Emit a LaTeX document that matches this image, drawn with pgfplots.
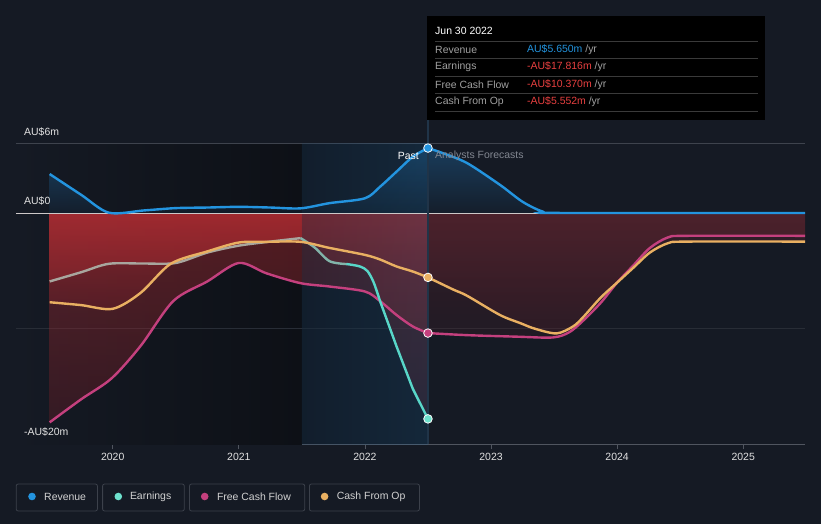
\documentclass[border=0pt]{standalone}
\usepackage{pgfplots}
\pgfplotsset{compat=1.18}
\usepackage{pgfplotstable}
\usepackage{fontspec}
\setmainfont{Liberation Sans}
\definecolor{bg}{RGB}{21,26,36}
\definecolor{darkpast}{RGB}{13,16,22}
\definecolor{axisgray}{RGB}{80,85,95}
\definecolor{gridtop}{RGB}{62,67,77}
\definecolor{gridmid}{RGB}{40,45,54}
\definecolor{zeroline}{RGB}{205,200,200}
\definecolor{revblue}{RGB}{35,148,223}
\definecolor{earngray}{RGB}{168,166,158}
\definecolor{earnmid}{RGB}{130,180,170}
\definecolor{earnteal}{RGB}{88,214,200}
\definecolor{earndot}{RGB}{110,225,205}
\definecolor{fcfmag}{RGB}{196,64,126}
\definecolor{cfoorange}{RGB}{233,176,98}
\definecolor{ticktext}{RGB}{225,225,225}
\definecolor{tipgray}{RGB}{160,160,160}
\definecolor{tipred}{RGB}{232,64,64}
\definecolor{tipsep}{RGB}{58,58,58}
\definecolor{legborder}{RGB}{60,65,75}
\definecolor{legtext}{RGB}{210,210,210}
\definecolor{forecastgray}{RGB}{130,135,145}
\definecolor{vline}{RGB}{32,52,72}

\pgfplotstableread{
x y
2019.5 3.4
2019.75 1.6
2019.97 0.05
2020.25 0.25
2020.5 0.45
2020.75 0.5
2021.0 0.56
2021.25 0.5
2021.49 0.43
2021.72 0.88
2022.0 1.3
2022.12 2.3
2022.25 3.6
2022.38 4.9
2022.5 5.65
}\revP
\pgfplotstableread{
x y
2022.5 5.65
2022.62 5.2
2022.81 4.35
2023.07 2.47
2023.25 1.0
2023.41 0.15
2023.55 0.03
2025.49 0.03
}\revF
\pgfplotstableread{
x y
2019.5 -5.9
2019.75 -5.1
2019.97 -4.37
2020.25 -4.35
2020.5 -4.3
2020.75 -3.4
2021.0 -2.8
2021.25 -2.45
2021.49 -2.15
2021.6 -2.95
2021.72 -4.15
2021.86 -4.4
2021.96 -4.6
2022.02 -5.0
2022.07 -6.0
2022.12 -7.75
2022.25 -11.6
2022.38 -15.4
2022.5 -17.8
}\earnAll
\pgfplotstableread{
x y
2019.5 -5.9
2019.75 -5.1
2019.97 -4.37
2020.25 -4.35
2020.5 -4.3
2020.75 -3.4
2021.0 -2.8
2021.25 -2.45
2021.49 -2.15
}\earnA
\pgfplotstableread{
x y
2021.49 -2.15
2021.6 -2.95
2021.72 -4.15
2021.86 -4.4
}\earnB
\pgfplotstableread{
x y
2021.86 -4.4
2021.96 -4.6
2022.02 -5.0
2022.07 -6.0
2022.12 -7.6
}\earnC
\pgfplotstableread{
x y
2022.12 -7.6
2022.25 -11.5
2022.38 -15.2
2022.5 -17.8
}\earnD
\pgfplotstableread{
x y
2019.5 -18.1
2019.75 -16.1
2019.99 -14.3
2020.22 -11.5
2020.48 -7.6
2020.75 -5.9
2021.0 -4.3
2021.22 -5.2
2021.49 -6.05
2021.72 -6.34
2022.0 -6.77
2022.12 -7.6
2022.25 -8.8
2022.38 -9.8
2022.5 -10.37
}\fcfP
\pgfplotstableread{
x y
2022.5 -10.37
2022.81 -10.55
2023.2 -10.68
2023.49 -10.75
2023.62 -10.3
2023.73 -9.3
2023.87 -7.75
2024.0 -6.0
2024.13 -4.5
2024.26 -3.0
2024.4 -2.1
2024.55 -1.95
2025.49 -1.95
}\fcfF
\pgfplotstableread{
x y
2019.5 -7.7
2019.75 -7.95
2020.0 -8.27
2020.22 -6.9
2020.46 -4.37
2020.75 -3.3
2021.0 -2.53
2021.22 -2.47
2021.49 -2.47
2021.72 -3.0
2022.0 -3.6
2022.12 -4.0
2022.25 -4.6
2022.38 -5.04
2022.5 -5.55
}\cfoP
\pgfplotstableread{
x y
2022.5 -5.55
2022.7 -6.6
2022.81 -7.14
2023.07 -8.8
2023.23 -9.5
2023.35 -10.0
2023.52 -10.4
2023.65 -9.8
2023.73 -9.0
2023.87 -7.3
2024.0 -6.0
2024.13 -4.7
2024.26 -3.4
2024.4 -2.6
2024.55 -2.45
2025.49 -2.45
}\cfoF

\begin{document}
\begin{tikzpicture}
\fill[bg] (0,0) rectangle (821bp,524bp);
\begin{axis}[
  at={(16bp,79.7bp)}, anchor=south west,
  scale only axis, width=789bp, height=300.3bp,
  xmin=2019.233, xmax=2025.49, ymin=-20, ymax=6,
  clip=false,
  axis x line*=bottom, axis y line=none,
  x axis line style={draw=axisgray, line width=1bp, -},
  xtick={2020,2021,2022,2023,2024,2025},
  xticklabels={2020,2021,2022,2023,2024,2025},
  tick align=outside, major tick length=5bp,
  xtick style={draw=axisgray, line width=0.8bp},
  xticklabel style={font=\fontsize{10.5}{12}\selectfont, text=ticktext},
  ytick=\empty,
]
% past dark band
\fill[left color=bg, right color=darkpast] (axis cs:2019.233,-20) rectangle (axis cs:2021.5,6);
% grid lines
\draw[gridtop, line width=1bp] (axis cs:2019.233,6) -- (axis cs:2025.49,6);
\draw[gridmid, line width=1bp] (axis cs:2019.233,-10) -- (axis cs:2025.49,-10);
% revenue fills
\addplot[draw=none, smooth, top color={rgb,255:red,35;green,140;blue,220}, bottom color={rgb,255:red,21;green,40;blue,60}, fill opacity=0.35] table {\revP} \closedcycle;
\addplot[draw=none, smooth, top color={rgb,255:red,35;green,140;blue,220}, bottom color={rgb,255:red,21;green,40;blue,60}, fill opacity=0.3] table {\revF} \closedcycle;
% red fills past
\addplot[draw=none, smooth, top color={rgb,255:red,210;green,50;blue,55}, bottom color={rgb,255:red,110;green,30;blue,40}, fill opacity=0.36] table {\earnAll} \closedcycle;
\addplot[draw=none, smooth, top color={rgb,255:red,210;green,50;blue,55}, bottom color={rgb,255:red,110;green,30;blue,40}, fill opacity=0.36] table {\fcfP} \closedcycle;
\addplot[draw=none, smooth, top color={rgb,255:red,210;green,50;blue,55}, bottom color={rgb,255:red,110;green,30;blue,40}, fill opacity=0.36] table {\cfoP} \closedcycle;
% red fills forecast
\addplot[draw=none, smooth, top color={rgb,255:red,190;green,50;blue,60}, bottom color={rgb,255:red,90;green,30;blue,40}, fill opacity=0.18] table {\fcfF} \closedcycle;
\addplot[draw=none, smooth, top color={rgb,255:red,190;green,50;blue,60}, bottom color={rgb,255:red,90;green,30;blue,40}, fill opacity=0.18] table {\cfoF} \closedcycle;
% highlight overlay
\fill[left color={rgb,255:red,25;green,70;blue,110}, right color={rgb,255:red,40;green,120;blue,180}, fill opacity=0.2] (axis cs:2021.5,-20) rectangle (axis cs:2022.5,6);
% zero line
\draw[zeroline, line width=1.1bp] (axis cs:2019.233,0) -- (axis cs:2025.49,0);
% now line
\draw[vline, line width=1.5bp] (axis cs:2022.5,-20) -- (axis cs:2022.5,8.1);
% lines
\addplot[revblue, line width=2.4bp, smooth] table {\revP};
\addplot[revblue, line width=2.4bp, smooth] table {\revF};
\addplot[fcfmag, line width=2.4bp, smooth] table {\fcfP};
\addplot[fcfmag, line width=2.4bp, smooth] table {\fcfF};
\addplot[earngray, line width=2.4bp, smooth] table {\earnA};
\addplot[earnmid, line width=2.4bp, smooth] table {\earnB};
\addplot[earnteal, line width=2.4bp, smooth, line cap=round] table {\earnC};
\addplot[earnteal, line width=2.4bp, line join=round] table {\earnD};
\addplot[cfoorange, line width=2.4bp, smooth] table {\cfoP};
\addplot[cfoorange, line width=2.4bp, smooth] table {\cfoF};
% dots
\addplot[only marks, mark=*, mark size=4.3bp, mark options={fill=revblue, draw=white, line width=0.8bp}] coordinates {(2022.5,5.65)};
\addplot[only marks, mark=*, mark size=4.3bp, mark options={fill=earndot, draw=white, line width=0.8bp}] coordinates {(2022.5,-17.8)};
\addplot[only marks, mark=*, mark size=4.3bp, mark options={fill=fcfmag, draw=white, line width=0.8bp}] coordinates {(2022.5,-10.37)};
\addplot[only marks, mark=*, mark size=4.3bp, mark options={fill=cfoorange, draw=white, line width=0.8bp}] coordinates {(2022.5,-5.55)};
\end{axis}
% y labels
\begin{scope}[every node/.style={font=\fontsize{10.5}{12}\selectfont, inner sep=0pt}]
\node[anchor=west, text=ticktext] at (24bp,{524bp-132.3bp}) {AU\$6m};
\node[anchor=west, text=ticktext] at (24bp,{524bp-201bp}) {AU\$0};
\node[anchor=west, text=ticktext] at (24bp,{524bp-432.3bp}) {-AU\$20m};
\node[anchor=east, text=white] at (419bp,{524bp-156bp}) {Past};
\node[anchor=west, text=forecastgray] at (435bp,{524bp-156bp}) {Analysts Forecasts};
% tooltip
\fill[black] (426.7bp,{524bp-16bp}) rectangle (765bp,{524bp-120bp});
\node[anchor=west, text=white] at (435bp,{524bp-31bp}) {Jun 30 2022};
\foreach \yy in {41,58.7,76.3,93.7,111}{
  \draw[tipsep, line width=0.8bp] (435bp,{524bp-\yy bp}) -- (758bp,{524bp-\yy bp});
}
\node[anchor=west, text=tipgray] at (435bp,{524bp-49.5bp}) {Revenue};
\node[anchor=west, text=tipgray] at (435bp,{524bp-67bp}) {Earnings};
\node[anchor=west, text=tipgray] at (435bp,{524bp-84.5bp}) {Free Cash Flow};
\node[anchor=west, text=tipgray] at (435bp,{524bp-102bp}) {Cash From Op};
\node[anchor=west] at (527bp,{524bp-49.5bp}) {\textcolor{revblue}{AU\$5.650m} \textcolor{tipgray}{/yr}};
\node[anchor=west] at (527bp,{524bp-67bp}) {\textcolor{tipred}{-AU\$17.816m} \textcolor{tipgray}{/yr}};
\node[anchor=west] at (527bp,{524bp-84.5bp}) {\textcolor{tipred}{-AU\$10.370m} \textcolor{tipgray}{/yr}};
\node[anchor=west] at (527bp,{524bp-102bp}) {\textcolor{tipred}{-AU\$5.552m} \textcolor{tipgray}{/yr}};
% legend
\draw[legborder, line width=0.8bp, rounded corners=2bp] (16.2bp,{524bp-484bp}) rectangle (97.4bp,{524bp-511bp});
\draw[legborder, line width=0.8bp, rounded corners=2bp] (102.6bp,{524bp-484bp}) rectangle (184.3bp,{524bp-511bp});
\draw[legborder, line width=0.8bp, rounded corners=2bp] (189.5bp,{524bp-484bp}) rectangle (304.7bp,{524bp-511bp});
\draw[legborder, line width=0.8bp, rounded corners=2bp] (309.4bp,{524bp-484bp}) rectangle (419.4bp,{524bp-511bp});
\fill[revblue] (32bp,{524bp-496.5bp}) circle (3.8bp);
\fill[earndot] (118.3bp,{524bp-496.5bp}) circle (3.8bp);
\fill[fcfmag] (204.7bp,{524bp-496.5bp}) circle (3.8bp);
\fill[cfoorange] (324.6bp,{524bp-496.5bp}) circle (3.8bp);
\node[anchor=west, text=legtext] at (44bp,{524bp-496.5bp}) {Revenue};
\node[anchor=west, text=legtext] at (129.8bp,{524bp-496.5bp}) {Earnings};
\node[anchor=west, text=legtext] at (216.8bp,{524bp-496.5bp}) {Free Cash Flow};
\node[anchor=west, text=legtext] at (336.6bp,{524bp-496.5bp}) {Cash From Op};
\end{scope}
\end{tikzpicture}
\end{document}
